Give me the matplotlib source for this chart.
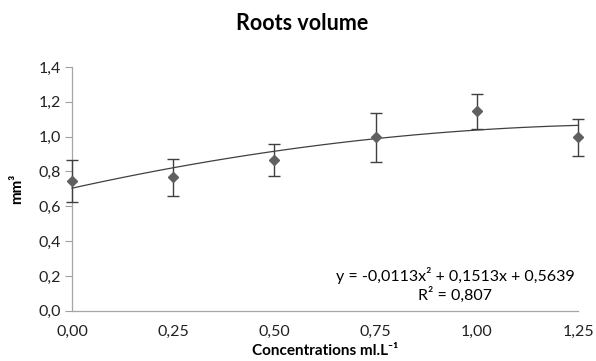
import numpy as np
import matplotlib
matplotlib.use('Agg')
import matplotlib.pyplot as plt

# data
conc = [0.00, 0.25, 0.50, 0.75, 1.00, 1.25]
volume = [0.745, 0.766, 0.864, 0.997, 1.145, 0.997]
err = [0.120, 0.107, 0.091, 0.141, 0.100, 0.107]

# polynomial trendline (x is point index 1..6, as in the spreadsheet)
coef = [-0.0113, 0.1513, 0.5639]
r2 = 0.807

x_ticks = [0.00, 0.25, 0.50, 0.75, 1.00, 1.25]
y_ticks = [0.0, 0.2, 0.4, 0.6, 0.8, 1.0, 1.2, 1.4]

plt.rcParams['font.family'] = ['Lato', 'DejaVu Sans']

fig = plt.figure(figsize=(5.96, 3.61), dpi=100)
ax = fig.add_axes([0.1208, 0.1393, 0.849, 0.675])

xs = np.linspace(conc[0], conc[-1], 100)
idx = xs / 0.25 + 1
ax.plot(xs, np.polyval(coef, idx), color='#404040', lw=0.9, clip_on=False, zorder=2)

ax.errorbar(conc, volume, yerr=err, fmt='D', color='#606060', ms=5.5,
            ecolor='#404040', elinewidth=1.0, capsize=4, capthick=1.0,
            clip_on=False, zorder=3)

ax.set_xlim(0, 1.25)
ax.set_ylim(0, 1.4)
ax.set_xticks(x_ticks)
ax.set_yticks(y_ticks)
ax.set_xticklabels([f'{v:.2f}'.replace('.', ',') for v in x_ticks])
ax.set_yticklabels([f'{v:.1f}'.replace('.', ',') for v in y_ticks])
ax.tick_params(axis='x', length=0, pad=10, labelsize=11.5, labelcolor='#222222')
ax.tick_params(axis='y', length=5, width=0.8, color='#a0a0a0', pad=3, labelsize=11.5,
               labelcolor='#222222')

for s in ['top', 'right']:
    ax.spines[s].set_visible(False)
for s in ['left', 'bottom']:
    ax.spines[s].set_color('#a6a6a6')
    ax.spines[s].set_linewidth(0.9)

ax.set_xlabel('Concentrations ml.L⁻¹', fontsize=11, fontweight='bold', labelpad=4)
ax.set_ylabel('mm³', fontsize=11, fontweight='bold', labelpad=10)
fig.text(0.507, 0.935, 'Roots volume', ha='center', va='center', fontsize=15.5, fontweight='bold')

eq = 'y = -0,0113x² + 0,1513x + 0,5639\nR² = 0,807'
fig.text(455 / 596, 1 - 285 / 361, eq, ha='center', va='center', fontsize=11.5,
         linespacing=1.25, multialignment='center')

fig.savefig('out.png', dpi=100)
